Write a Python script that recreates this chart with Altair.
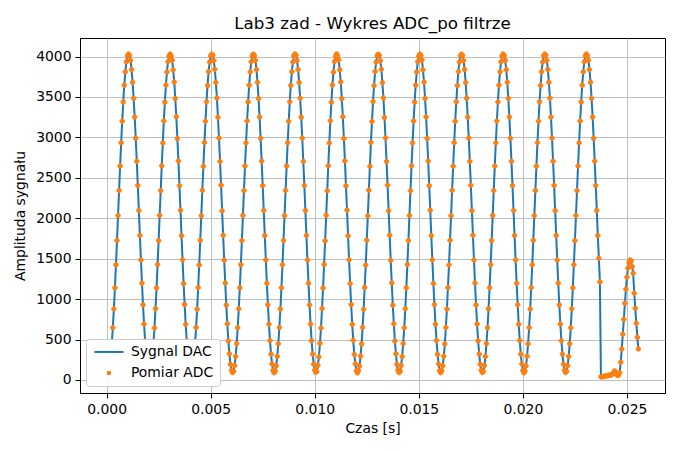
import altair as alt
import pandas as pd

# Sampling step of the ADC (s)
sample_period = 0.00005

# ADC samples, one list per signal period (40 samples each)
cycle_00 = [119, 90, 110, 177, 291, 449, 647, 879, 1141, 1425, 1725, 2034, 2343, 2646, 2934, 3201, 3439, 3644, 3811, 3934,
            4008, 4030, 4014, 3953, 3839, 3681, 3483, 3251, 2989, 2705, 2405, 2096, 1787, 1484, 1196, 929, 691, 486, 320, 196]
cycle_01 = [122, 94, 107, 180, 288, 452, 644, 882, 1138, 1428, 1722, 2037, 2340, 2649, 2931, 3204, 3436, 3647, 3808, 3937,
            4005, 4031, 4011, 3956, 3836, 3684, 3480, 3254, 2986, 2708, 2402, 2099, 1784, 1487, 1193, 932, 688, 489, 317, 199]
cycle_02 = [116, 88, 113, 174, 294, 446, 650, 876, 1144, 1422, 1728, 2031, 2346, 2643, 2937, 3198, 3442, 3641, 3814, 3931,
            4010, 4028, 4016, 3950, 3842, 3678, 3486, 3248, 2992, 2702, 2408, 2093, 1790, 1481, 1199, 926, 694, 483, 323, 193]
cycle_03 = [120, 92, 108, 179, 290, 450, 646, 880, 1140, 1426, 1724, 2035, 2342, 2647, 2933, 3202, 3438, 3645, 3810, 3935,
            4007, 4029, 4013, 3954, 3838, 3682, 3482, 3252, 2988, 2706, 2404, 2097, 1786, 1485, 1195, 930, 690, 487, 319, 197]
cycle_04 = [118, 89, 111, 176, 292, 448, 648, 878, 1142, 1424, 1726, 2033, 2344, 2645, 2935, 3200, 3440, 3643, 3812, 3933,
            4009, 4031, 4015, 3952, 3840, 3680, 3484, 3250, 2990, 2704, 2406, 2095, 1788, 1483, 1197, 928, 692, 485, 321, 195]
cycle_05 = [123, 95, 106, 181, 287, 453, 643, 883, 1137, 1429, 1721, 2038, 2339, 2650, 2930, 3205, 3435, 3648, 3807, 3938,
            4004, 4032, 4010, 3957, 3835, 3685, 3479, 3255, 2985, 2709, 2401, 2100, 1783, 1488, 1192, 933, 687, 490, 316, 200]
cycle_06 = [115, 87, 114, 173, 295, 445, 651, 875, 1145, 1421, 1729, 2030, 2347, 2642, 2938, 3197, 3443, 3640, 3815, 3930,
            4011, 4027, 4017, 3949, 3843, 3677, 3487, 3247, 2993, 2701, 2409, 2092, 1791, 1480, 1200, 925, 695, 482, 324, 192]
cycle_07 = [121, 91, 109, 178, 289, 451, 645, 881, 1139, 1427, 1723, 2036, 2341, 2648, 2932, 3203, 3437, 3646, 3809, 3936,
            4006, 4030, 4012, 3955, 3837, 3683, 3481, 3253, 2987, 2707, 2403, 2098, 1785, 1486, 1194, 931, 689, 488, 318, 198]
cycle_08 = [117, 90, 112, 175, 293, 447, 649, 877, 1143, 1423, 1727, 2032, 2345, 2644, 2936, 3199, 3441, 3642, 3813, 3932,
            4010, 4029, 4015, 3951, 3841, 3679, 3485, 3249, 2991, 2703, 2407, 2094, 1789, 1482, 1198, 927, 693, 484, 322, 194]
cycle_09 = [120, 93, 108, 179, 290, 450, 646, 880, 1140, 1426, 1724, 2035, 2342, 2647, 2933, 3202, 3438, 3645, 3810, 3935,
            4007, 4031, 4013, 3954, 3838, 3682, 3482, 3252, 2988, 2706, 2404, 2097, 1786, 1485, 1195, 930, 690, 487, 319, 197]
cycle_10 = [118, 89, 111, 176, 292, 448, 648, 878, 1142, 1424, 1726, 2033, 2344, 2645, 2935, 3200, 3440, 3643, 3812, 3933,
            4009, 4030, 4015, 3952, 3840, 3680, 3484, 3250, 2990, 2704, 2406, 2095, 1788, 1483, 1197, 928, 692, 485, 321, 195]
# last, interrupted period (35 samples) before the signal drops
cycle_11 = [121, 92, 109, 178, 290, 450, 646, 880, 1140, 1426, 1724, 2035, 2342, 2647, 2933, 3202, 3438, 3645, 3810, 3935,
            4008, 4031, 4013, 3954, 3838, 3682, 3482, 3252, 2988, 2706, 2404, 2097, 1786, 1505, 1212]
# flat part after the drop
tail_flat = [40, 39, 42, 45, 48, 50, 52, 55, 58, 60, 63, 70, 85, 112, 104, 72, 56, 60, 90]
# short final burst
tail_burst = [219, 384, 566, 751, 949, 1123, 1271, 1382, 1452, 1485, 1470, 1402, 1320, 1073, 887, 702, 528, 384]

series_names = ["Sygnal DAC", "Pomiar ADC"]
series_colors = ["#1f77b4", "#ff7f0e"]
legend_shapes = ["M-5.5,0H5.5", "M-0.47,0A0.47,0.47,0,1,1,0.47,0A0.47,0.47,0,1,1,-0.47,0Z"]

x_ticks = [0.0, 0.005, 0.010, 0.015, 0.020, 0.025]
y_ticks = [0, 500, 1000, 1500, 2000, 2500, 3000, 3500, 4000]

values = (cycle_00 + cycle_01 + cycle_02 + cycle_03 + cycle_04 + cycle_05 + cycle_06 + cycle_07
          + cycle_08 + cycle_09 + cycle_10 + cycle_11 + tail_flat + tail_burst)
times = [i * sample_period for i in range(len(values))]

dac = pd.DataFrame({"t": times, "v": values, "series": series_names[0]})
adc = pd.DataFrame({"t": times, "v": values, "series": series_names[1]})

xscale = alt.Scale(domain=[-0.0012775, 0.0268275], nice=False, zero=False)
yscale = alt.Scale(domain=[-161, 4229], nice=False, zero=False)

legend = alt.Legend(
    title=None, orient="none", legendX=6, legendY=301,
    symbolSize=28, symbolOffset=10, symbolStrokeWidth=2, labelOffset=15,
    padding=6, rowPadding=6,
    strokeColor="#cccccc", fillColor="white", cornerRadius=3,
    labelFont="DejaVu Sans", labelFontSize=13.9, labelColor="black",
)

color = alt.Color("series:N", scale=alt.Scale(domain=series_names, range=series_colors), legend=legend)
shape = alt.Shape("series:N", scale=alt.Scale(domain=series_names, range=legend_shapes), legend=legend)

xenc = alt.X("t:Q", scale=xscale,
             axis=alt.Axis(values=x_ticks, format=".3f", title="Czas [s]", labelFlush=False, titlePadding=6))
yenc = alt.Y("v:Q", scale=yscale,
             axis=alt.Axis(values=y_ticks, format="d", title="Amplituda sygnału", labelFlush=False, titlePadding=8))

line = alt.Chart(dac).mark_line(strokeWidth=2, color=series_colors[0], clip=True).encode(x=xenc, y=yenc)
points = alt.Chart(adc).mark_point(filled=False, fill=series_colors[1], strokeWidth=1, size=92,
                                   opacity=1, clip=True).encode(x=xenc, y=yenc, color=color, shape=shape)

chart = alt.layer(line, points).properties(
    width=585, height=355,
    autosize=alt.AutoSizeParams(type="none"),
    padding={"left": 72, "top": 30, "right": 7, "bottom": 49},
    title=alt.TitleParams("Lab3 zad - Wykres ADC_po filtrze", font="DejaVu Sans", fontSize=16.7,
                          fontWeight="normal", color="black", anchor="middle", offset=5),
).configure_view(stroke="black", strokeWidth=1).configure_axis(
    grid=True, gridColor="#b0b0b0", gridWidth=0.8,
    domainColor="black", domainWidth=1, tickColor="black", tickWidth=1, tickSize=5,
    labelFont="DejaVu Sans", labelFontSize=13.9, labelColor="black", labelPadding=4,
    titleFont="DejaVu Sans", titleFontSize=13.9, titleFontWeight="normal", titleColor="black",
)

chart.save("out.html", embed_options={"renderer": "svg", "actions": False})
